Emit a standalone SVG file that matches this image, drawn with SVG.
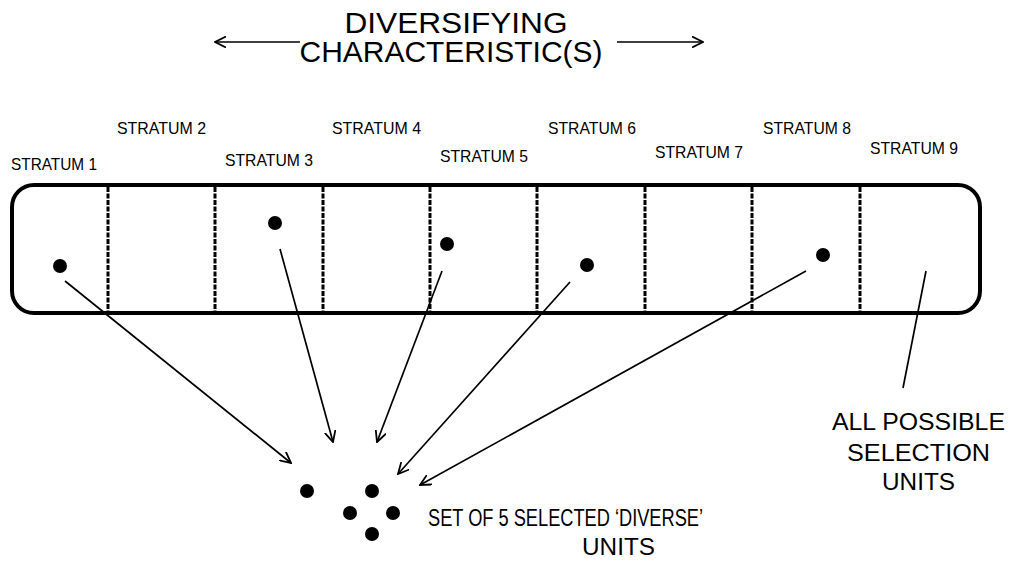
<svg xmlns="http://www.w3.org/2000/svg" width="1013" height="561" viewBox="0 0 1013 561">
<defs>
<style>
text{font-family:"Liberation Sans",Arial,sans-serif;fill:#000}
.title{font-size:29px}
.str{font-size:16.5px}
.lbl{font-size:23px}
.div{stroke:#000;stroke-width:3;stroke-dasharray:5 1.5;fill:none}
.con{stroke:#000;stroke-width:1.7;fill:none}
.dot{fill:#000}
</style>
<marker id="ah" viewBox="0 0 12 12" refX="11" refY="6" markerWidth="12" markerHeight="12" markerUnits="userSpaceOnUse" orient="auto">
<path d="M0,0.5 L11,6 L0,11.5" fill="none" stroke="#000" stroke-width="1.8"/>
</marker>
</defs>
<rect width="1013" height="561" fill="#fff"/>
<g id="title">
<text class="title" x="456" y="32.5" text-anchor="middle" textLength="223" lengthAdjust="spacingAndGlyphs">DIVERSIFYING</text>
<text class="title" x="451" y="62" text-anchor="middle" textLength="303" lengthAdjust="spacingAndGlyphs">CHARACTERISTIC(S)</text>
</g>
<g id="strata-box">
<rect x="12" y="185" width="968" height="128" rx="22" ry="22" fill="none" stroke="#000" stroke-width="4"/>
<line class="div" x1="108" y1="187" x2="108" y2="311"/>
<line class="div" x1="215" y1="187" x2="215" y2="311"/>
<line class="div" x1="323" y1="187" x2="323" y2="311"/>
<line class="div" x1="430" y1="187" x2="430" y2="311"/>
<line class="div" x1="537" y1="187" x2="537" y2="311"/>
<line class="div" x1="645" y1="187" x2="645" y2="311"/>
<line class="div" x1="752" y1="187" x2="752" y2="311"/>
<line class="div" x1="860" y1="187" x2="860" y2="311"/>
</g>
<g id="stratum-labels">
<text class="str" x="11" y="170" textLength="86" lengthAdjust="spacingAndGlyphs">STRATUM 1</text>
<text class="str" x="117" y="134" textLength="89" lengthAdjust="spacingAndGlyphs">STRATUM 2</text>
<text class="str" x="225" y="166" textLength="88" lengthAdjust="spacingAndGlyphs">STRATUM 3</text>
<text class="str" x="332" y="134" textLength="89" lengthAdjust="spacingAndGlyphs">STRATUM 4</text>
<text class="str" x="440" y="162" textLength="88" lengthAdjust="spacingAndGlyphs">STRATUM 5</text>
<text class="str" x="548" y="134" textLength="88" lengthAdjust="spacingAndGlyphs">STRATUM 6</text>
<text class="str" x="655" y="158" textLength="88" lengthAdjust="spacingAndGlyphs">STRATUM 7</text>
<text class="str" x="763" y="134" textLength="88" lengthAdjust="spacingAndGlyphs">STRATUM 8</text>
<text class="str" x="870" y="154" textLength="88" lengthAdjust="spacingAndGlyphs">STRATUM 9</text>
</g>
<g id="source-units">
<circle class="dot" cx="60" cy="266" r="7"/>
<circle class="dot" cx="275" cy="223" r="7"/>
<circle class="dot" cx="447" cy="244" r="7"/>
<circle class="dot" cx="587" cy="265" r="7"/>
<circle class="dot" cx="823" cy="255" r="7"/>
</g>
<g id="selected-units">
<circle class="dot" cx="307" cy="491" r="7"/>
<circle class="dot" cx="372" cy="491" r="7"/>
<circle class="dot" cx="350" cy="513" r="7"/>
<circle class="dot" cx="393" cy="513" r="7"/>
<circle class="dot" cx="372" cy="534" r="7"/>
</g>
<g id="connectors">
<line class="con" x1="300" y1="42" x2="215" y2="42" marker-end="url(#ah)"/>
<line class="con" x1="617" y1="42" x2="703" y2="42" marker-end="url(#ah)"/>
<line class="con" x1="65" y1="281" x2="291" y2="463" marker-end="url(#ah)"/>
<line class="con" x1="280" y1="249" x2="333" y2="442" marker-end="url(#ah)"/>
<line class="con" x1="442" y1="271" x2="377" y2="442" marker-end="url(#ah)"/>
<line class="con" x1="570" y1="282" x2="398" y2="474" marker-end="url(#ah)"/>
<line class="con" x1="806" y1="271" x2="420" y2="485" marker-end="url(#ah)"/>
<line class="con" x1="926" y1="271" x2="903" y2="388"/>
</g>
<g id="label-selected">
<text class="lbl" x="428" y="526" textLength="275" lengthAdjust="spacingAndGlyphs">SET OF 5 SELECTED ‘DIVERSE’</text>
<text class="lbl" x="618.5" y="555" text-anchor="middle" textLength="73" lengthAdjust="spacingAndGlyphs">UNITS</text>
</g>
<g id="label-all">
<text class="lbl" x="918.5" y="430" text-anchor="middle" textLength="173" lengthAdjust="spacingAndGlyphs">ALL POSSIBLE</text>
<text class="lbl" x="918.5" y="461" text-anchor="middle" textLength="143" lengthAdjust="spacingAndGlyphs">SELECTION</text>
<text class="lbl" x="918.5" y="490" text-anchor="middle" textLength="73" lengthAdjust="spacingAndGlyphs">UNITS</text>
</g>
</svg>
